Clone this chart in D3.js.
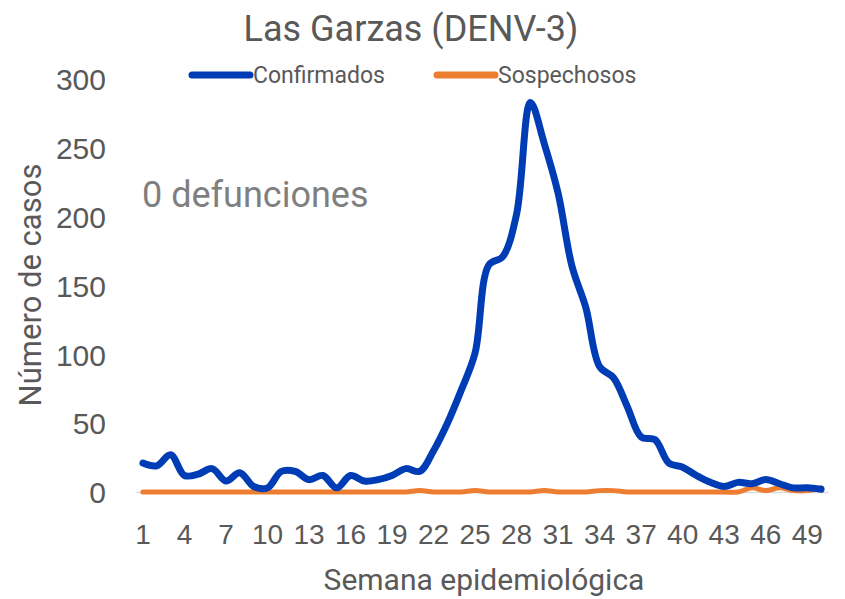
<!DOCTYPE html>
<html>
<head>
<meta charset="utf-8">
<script src="https://cdn.jsdelivr.net/npm/d3@7"></script>
<style>
  body { margin: 0; background: #fff; }
  svg { font-family: Roboto, "Open Sans", sans-serif; }
  .axis text { fill: #595959; }
</style>
</head>
<body>
<div id="chart"></div>
<script>
const weeks = d3.range(1, 51);
const confirmados = [21, 19, 27, 12, 13, 17, 8, 14, 4, 3,
  15, 15, 9, 12, 3, 12, 8, 9, 12, 17,
  15, 30, 50, 74, 101, 165, 171, 202, 283, 253,
  217, 164, 134, 91, 83, 62, 40, 38, 21, 18,
  12, 7, 4, 7, 6, 9, 6, 3, 3, 2];
const sospechosos = [0, 0, 0, 0, 0, 0, 0, 0, 0, 0,
  0, 0, 0, 0, 0, 0, 0, 0, 0, 0,
  1, 0, 0, 0, 1, 0, 0, 0, 0, 1,
  0, 0, 0, 1, 1, 0, 0, 0, 0, 0,
  0, 0, 0, 0, 3, 1, 3, 1, 1, 3];
const yTicks = [0, 50, 100, 150, 200, 250, 300];
const xTicks = weeks.filter(w => (w - 1) % 3 === 0);

const WIDTH = 845, HEIGHT = 599;
const MARGIN = {top: 79, bottom: 107, left: 136, right: 17};

const svg = d3.select("#chart").append("svg")
  .attr("width", WIDTH)
  .attr("height", HEIGHT);

const x = d3.scaleBand()
  .domain(weeks)
  .range([MARGIN.left, WIDTH - MARGIN.right]);
const cx = d => x(d) + x.bandwidth() / 2;

const y = d3.scaleLinear()
  .domain([0, 300])
  .range([HEIGHT - MARGIN.bottom, MARGIN.top]);

// title
svg.append("text")
  .attr("x", 411).attr("y", 41)
  .attr("text-anchor", "middle")
  .style("font-size", "36px")
  .style("fill", "#595959")
  .text("Las Garzas (DENV-3)");

// y axis (labels only)
const yAxis = svg.append("g")
  .attr("class", "axis")
  .attr("transform", "translate(" + MARGIN.left + ",0)")
  .call(d3.axisLeft(y).tickValues(yTicks).tickSize(0).tickPadding(30));
yAxis.select(".domain").remove();
yAxis.selectAll("text").style("font-size", "30px").attr("dy", "0.36em");

// x axis
const xAxis = svg.append("g")
  .attr("class", "axis")
  .attr("transform", "translate(0," + y(0) + ")")
  .call(d3.axisBottom(x).tickValues(xTicks).tickSize(0).tickPadding(0));
xAxis.select(".domain")
  .attr("stroke", "#d9d9d9")
  .attr("stroke-width", 1.5);
xAxis.selectAll("text")
  .attr("dy", null)
  .attr("y", 52)
  .style("font-size", "28px");

// axis titles
svg.append("text")
  .attr("x", 484).attr("y", 590)
  .attr("text-anchor", "middle")
  .style("font-size", "30px")
  .style("fill", "#595959")
  .text("Semana epidemiológica");

svg.append("text")
  .attr("transform", "translate(41,285) rotate(-90)")
  .attr("text-anchor", "middle")
  .style("font-size", "31px")
  .style("fill", "#595959")
  .text("Número de casos");

// annotation
svg.append("text")
  .attr("x", 142).attr("y", 207)
  .style("font-size", "36px")
  .style("fill", "#7f7f7f")
  .text("0 defunciones");

// lines
const line = d3.line()
  .x((d, i) => cx(weeks[i]))
  .y(d => y(d))
  .curve(d3.curveCatmullRom.alpha(0.5));

svg.append("path")
  .datum(sospechosos)
  .attr("fill", "none")
  .attr("stroke", "#ED7D31")
  .attr("stroke-width", 5)
  .attr("stroke-linecap", "round")
  .attr("stroke-linejoin", "round")
  .attr("d", line);

svg.append("path")
  .datum(confirmados)
  .attr("fill", "none")
  .attr("stroke", "#003DB5")
  .attr("stroke-width", 7)
  .attr("stroke-linecap", "round")
  .attr("stroke-linejoin", "round")
  .attr("d", line);

// legend
const legend = [
  {name: "Confirmados", color: "#003DB5", x: 192},
  {name: "Sospechosos", color: "#ED7D31", x: 437}
];
const lg = svg.append("g").selectAll("g")
  .data(legend).join("g")
  .attr("transform", d => "translate(" + d.x + ",75)");
lg.append("line")
  .attr("x1", 0).attr("x2", 58)
  .attr("stroke", d => d.color)
  .attr("stroke-width", 7)
  .attr("stroke-linecap", "round");
lg.append("text")
  .attr("x", 61).attr("y", 8)
  .style("font-size", "23px")
  .style("fill", "#595959")
  .text(d => d.name);
</script>
</body>
</html>
